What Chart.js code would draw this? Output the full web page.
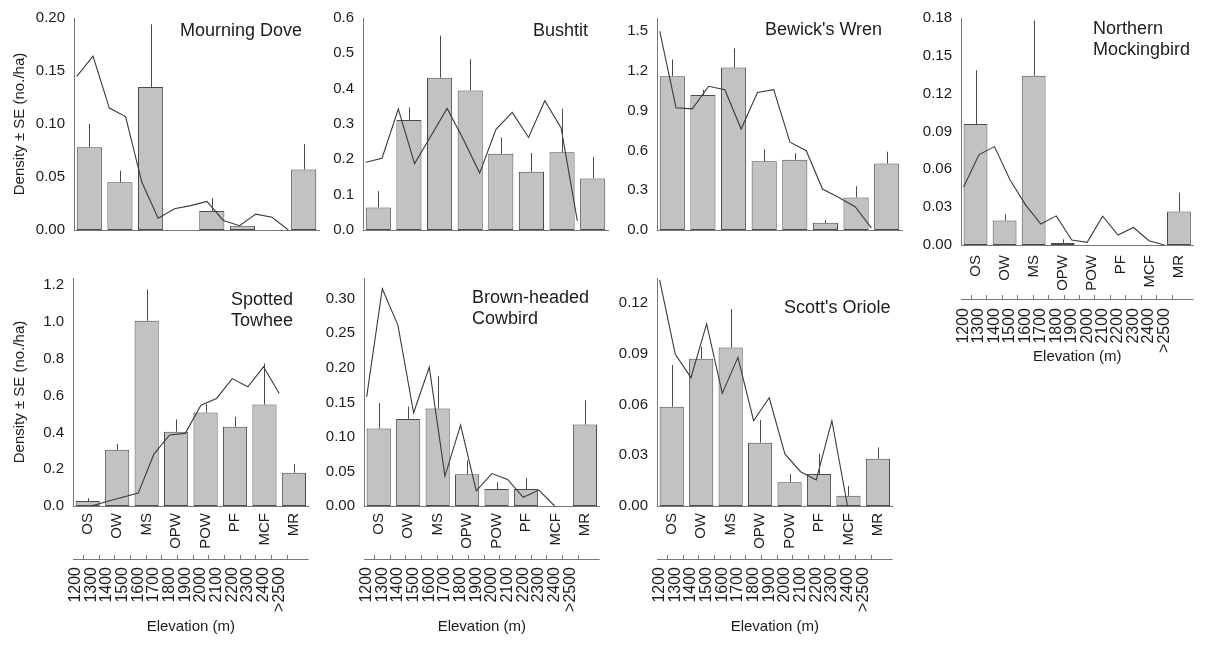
<!DOCTYPE html>
<html>
<head>
<meta charset="utf-8">
<script src="https://cdn.jsdelivr.net/npm/chart.js@4.4.1/dist/chart.umd.min.js"></script>
<style>
  html, body { margin: 0; padding: 0; background: #ffffff; }
  #figure { position: relative; width: 1207px; height: 649px; overflow: hidden; background: #ffffff; }
  #figure canvas { position: absolute; }
</style>
</head>
<body>
<div id="figure"></div>
<script>
// Habitat classes (bars) and elevation bands (line)
const HABITATS = ['OS', 'OW', 'MS', 'OPW', 'POW', 'PF', 'MCF', 'MR'];
const ELEVATIONS = ['1200', '1300', '1400', '1500', '1600', '1700', '1800', '1900',
                    '2000', '2100', '2200', '2300', '2400', '>2500'];

// Mourning Dove
const doveDensity   = [0.078, 0.045, 0.135, 0, 0.018, 0.004, 0, 0.057];
const doveSE        = [0.022, 0.011, 0.059, 0, 0.012, 0, 0, 0.024];
const doveByElev    = [0.145, 0.164, 0.115, 0.107, 0.045, 0.011, 0.020, 0.023, 0.027, 0.009, 0.004, 0.015, 0.012, 0];
const doveTicks     = ['0.00', '0.05', '0.10', '0.15', '0.20'];

// Bushtit
const bushtitDensity = [0.064, 0.311, 0.431, 0.395, 0.216, 0.165, 0.220, 0.146];
const bushtitSE      = [0.046, 0.036, 0.119, 0.088, 0.046, 0.053, 0.123, 0.061];
const bushtitByElev  = [0.192, 0.203, 0.342, 0.188, 0.266, 0.344, 0.256, 0.161, 0.285, 0.333, 0.262, 0.366, 0.289, 0.026];
const bushtitTicks   = ['0.0', '0.1', '0.2', '0.3', '0.4', '0.5', '0.6'];

// Bewick's Wren
const wrenDensity = [1.160, 1.019, 1.226, 0.518, 0.530, 0.054, 0.246, 0.502];
const wrenSE      = [0.127, 0.040, 0.145, 0.091, 0.049, 0.021, 0.084, 0.089];
const wrenByElev  = [1.500, 0.923, 0.914, 1.085, 1.059, 0.762, 1.038, 1.059, 0.663, 0.598, 0.309, 0.246, 0.176, 0.016];
const wrenTicks   = ['0.0', '0.3', '0.6', '0.9', '1.2', '1.5'];

// Northern Mockingbird
const mockDensity = [0.0959, 0.0194, 0.1343, 0.0016, 0, 0, 0, 0.0265];
const mockSE      = [0.0426, 0.0048, 0.0437, 0.0029, 0, 0, 0, 0.0150];
const mockByElev  = [0.046, 0.0717, 0.078, 0.0518, 0.032, 0.0166, 0.0231, 0.0039, 0.0021, 0.0229, 0.0079, 0.0139, 0.0034, 0];
const mockTicks   = ['0.00', '0.03', '0.06', '0.09', '0.12', '0.15', '0.18'];

// Spotted Towhee
const towheeDensity = [0.027, 0.306, 1.007, 0.404, 0.509, 0.431, 0.552, 0.181];
const towheeSE      = [0.015, 0.031, 0.171, 0.067, 0.046, 0.054, 0.223, 0.047];
const towheeByElev  = [null, 0.0, 0.025, 0.048, 0.070, 0.282, 0.386, 0.395, 0.548, 0.585, 0.693, 0.648, 0.757, 0.612];
const towheeTicks   = ['0.0', '0.2', '0.4', '0.6', '0.8', '1.0', '1.2'];

// Brown-headed Cowbird
const cowbirdDensity = [0.112, 0.126, 0.141, 0.046, 0.0246, 0.0246, 0, 0.118];
const cowbirdSE      = [0.037, 0.018, 0.047, 0.020, 0.010, 0.016, 0, 0.035];
const cowbirdByElev  = [0.158, 0.3145, 0.2615, 0.135, 0.201, 0.0433, 0.117, 0.022, 0.047, 0.0385, 0.0125, 0.023, 0, null];
const cowbirdTicks   = ['0.00', '0.05', '0.10', '0.15', '0.20', '0.25', '0.30'];

// Scott's Oriole
const orioleDensity = [0.0588, 0.0872, 0.0938, 0.0375, 0.014, 0.019, 0.0061, 0.028];
const orioleSE      = [0.0247, 0.0071, 0.0228, 0.0134, 0.005, 0.012, 0.0057, 0.0067];
const orioleByElev  = [0.1338, 0.0898, 0.076, 0.1078, 0.0667, 0.088, 0.0505, 0.0641, 0.0308, 0.0203, 0.0154, 0.0505, 0, null];
const orioleTicks   = ['0.00', '0.03', '0.06', '0.09', '0.12'];

// ---- drawing setup ----
const FONT = '"Liberation Sans", Arial, sans-serif';
const INK = '#1c1c1c';
const AXIS = '#777777';
const BAR_FILL = '#c2c2c2';
const BAR_EDGE = '#4a4a4a';
const LINE = '#3a3a3a';
const AREA_W = 245;
const Y_TITLE = 'Density \u00b1 SE (no./ha)';

// elevation bands sit on their own axis, sharing the habitat axis extent (-0.5 .. 7.5)
function elevPos(i) { return -0.5 + 0.09 + i * 0.5315; }

const panels = [
  { name: ['Mourning Dove'], density: doveDensity, se: doveSE, byElev: doveByElev, ticks: doveTicks, yMax: 0.20,
    left: 74, top: 16, areaH: 229, yw: 74, padTop: 16, axes: false, yTitle: true, label: { dx: 106, dy: 13 } },
  { name: ['Bushtit'], density: bushtitDensity, se: bushtitSE, byElev: bushtitByElev, ticks: bushtitTicks, yMax: 0.6,
    left: 363, top: 16, areaH: 229, yw: 50, padTop: 16, axes: false, yTitle: false, label: { dx: 170, dy: 13 } },
  { name: ["Bewick's Wren"], density: wrenDensity, se: wrenSE, byElev: wrenByElev, ticks: wrenTicks, yMax: 1.6,
    left: 657, top: 17, areaH: 228, yw: 50, padTop: 17, axes: false, yTitle: false, label: { dx: 108, dy: 12 } },
  { name: ['Northern', 'Mockingbird'], density: mockDensity, se: mockSE, byElev: mockByElev, ticks: mockTicks, yMax: 0.18,
    left: 961, top: 16, areaH: 229, yw: 50, padTop: 16, axes: true, hx: 50, he: 71, habPad: 10, elevPad: 9,
    yTitle: false, label: { dx: 132, dy: 11 } },
  { name: ['Spotted', 'Towhee'], density: towheeDensity, se: towheeSE, byElev: towheeByElev, ticks: towheeTicks, yMax: 1.24,
    left: 73, top: 278, areaH: 228, yw: 73, padTop: 18, axes: true, hx: 49, he: 81, habPad: 7, elevPad: 8,
    yTitle: true, label: { dx: 158, dy: 22 } },
  { name: ['Brown-headed', 'Cowbird'], density: cowbirdDensity, se: cowbirdSE, byElev: cowbirdByElev, ticks: cowbirdTicks, yMax: 0.33,
    left: 364, top: 278, areaH: 228, yw: 50, padTop: 18, axes: true, hx: 49, he: 81, habPad: 7, elevPad: 8,
    yTitle: false, label: { dx: 108, dy: 20 } },
  { name: ["Scott's Oriole"], density: orioleDensity, se: orioleSE, byElev: orioleByElev, ticks: orioleTicks, yMax: 0.135,
    left: 657, top: 278, areaH: 228, yw: 50, padTop: 18, axes: true, hx: 49, he: 81, habPad: 7, elevPad: 8,
    yTitle: false, label: { dx: 127, dy: 30 } }
];

// upper standard-error whiskers above each bar
function errorBarPlugin(p) {
  return {
    id: 'errorBars',
    afterDatasetsDraw(chart) {
      const { ctx } = chart;
      const y = chart.scales.y;
      const bars = chart.getDatasetMeta(1).data;
      ctx.save();
      ctx.strokeStyle = BAR_EDGE;
      ctx.lineWidth = 1;
      bars.forEach((bar, i) => {
        const se = p.se[i];
        if (!se) return;
        const x = Math.round(bar.x) + 0.5;
        ctx.beginPath();
        ctx.moveTo(x, y.getPixelForValue(p.density[i]));
        ctx.lineTo(x, y.getPixelForValue(p.density[i] + se));
        ctx.stroke();
      });
      ctx.restore();
    }
  };
}

// species name and the elevation axis rule under its tick marks
function decorPlugin(p) {
  return {
    id: 'decor',
    afterDraw(chart) {
      const { ctx, chartArea } = chart;
      ctx.save();
      if (p.axes) {
        const xe = chart.scales.xe;
        const yy = Math.round(xe.top + 4) + 0.5;
        ctx.strokeStyle = AXIS;
        ctx.lineWidth = 1;
        ctx.beginPath();
        ctx.moveTo(chartArea.left, yy);
        ctx.lineTo(chartArea.right, yy);
        ctx.stroke();
      }
      ctx.fillStyle = INK;
      ctx.font = '18px ' + FONT;
      ctx.textAlign = 'left';
      ctx.textBaseline = 'middle';
      p.name.forEach((line, k) => {
        ctx.fillText(line, chartArea.left + p.label.dx, chartArea.top + p.label.dy + k * 21.5);
      });
      ctx.restore();
    }
  };
}

const figure = document.getElementById('figure');

panels.forEach(p => {
  const hx = p.axes ? p.hx : 0;
  const he = p.axes ? p.he : 0;
  const padBottom = p.axes ? 0 : 3;
  const canvas = document.createElement('canvas');
  canvas.width = p.yw + AREA_W + 1;
  canvas.height = p.padTop + p.areaH + hx + he + padBottom;
  canvas.style.left = (p.left - p.yw) + 'px';
  canvas.style.top = (p.top - p.padTop) + 'px';
  figure.appendChild(canvas);

  new Chart(canvas, {
    type: 'bar',
    data: {
      labels: HABITATS,
      datasets: [
        {
          type: 'line',
          data: p.byElev.map((v, i) => ({ x: elevPos(i), y: v })),
          xAxisID: 'xe',
          yAxisID: 'y',
          borderColor: LINE,
          borderWidth: 1.1,
          pointRadius: 0,
          pointHoverRadius: 0,
          fill: false,
          tension: 0,
          spanGaps: false,
          order: 0
        },
        {
          type: 'bar',
          data: p.density,
          xAxisID: 'x',
          yAxisID: 'y',
          backgroundColor: BAR_FILL,
          borderColor: BAR_EDGE,
          borderWidth: 1,
          borderSkipped: false,
          grouped: false,
          barPercentage: 0.82,
          categoryPercentage: 1.0,
          order: 1
        }
      ]
    },
    options: {
      responsive: false,
      animation: false,
      devicePixelRatio: 1,
      layout: { padding: { top: p.padTop, right: 1, bottom: padBottom, left: 0 } },
      plugins: { legend: { display: false }, tooltip: { enabled: false }, title: { display: false } },
      scales: {
        x: {
          type: 'category',
          position: 'bottom',
          weight: 0,
          offset: true,
          grid: { display: false, drawTicks: false },
          border: { display: true, color: AXIS, width: 1 },
          ticks: {
            display: p.axes,
            autoSkip: false,
            minRotation: 90,
            maxRotation: 90,
            padding: p.habPad || 0,
            color: INK,
            font: { family: FONT, size: 15 }
          },
          afterFit(s) { s.height = hx; }
        },
        xe: {
          type: 'linear',
          position: 'bottom',
          weight: 1,
          display: p.axes,
          min: -0.5,
          max: 7.5,
          offset: false,
          grid: { display: true, drawOnChartArea: false, drawTicks: true, tickLength: 4, color: AXIS, lineWidth: 1 },
          border: { display: false },
          afterBuildTicks(s) { s.ticks = ELEVATIONS.map((_, i) => ({ value: elevPos(i) })); },
          ticks: {
            autoSkip: false,
            minRotation: 90,
            maxRotation: 90,
            padding: p.elevPad || 0,
            color: INK,
            font: { family: FONT, size: 16 },
            callback: (v, i) => ELEVATIONS[i]
          },
          title: {
            display: true,
            text: 'Elevation (m)',
            color: INK,
            font: { family: FONT, size: 15 },
            padding: { top: 0, bottom: 0 }
          },
          afterFit(s) { s.height = he; }
        },
        y: {
          type: 'linear',
          position: 'left',
          min: 0,
          max: p.yMax,
          grid: { display: false, drawTicks: false },
          border: { display: true, color: AXIS, width: 1 },
          afterBuildTicks(s) { s.ticks = p.ticks.map(t => ({ value: parseFloat(t) })); },
          ticks: {
            padding: 9,
            color: INK,
            font: { family: FONT, size: 15 },
            callback: (v, i) => p.ticks[i]
          },
          title: {
            display: p.yTitle,
            text: Y_TITLE,
            color: INK,
            font: { family: FONT, size: 15 },
            padding: { top: 11, bottom: 0 }
          },
          afterFit(s) { s.width = p.yw; }
        }
      }
    },
    plugins: [errorBarPlugin(p), decorPlugin(p)]
  });
});
</script>
</body>
</html>
